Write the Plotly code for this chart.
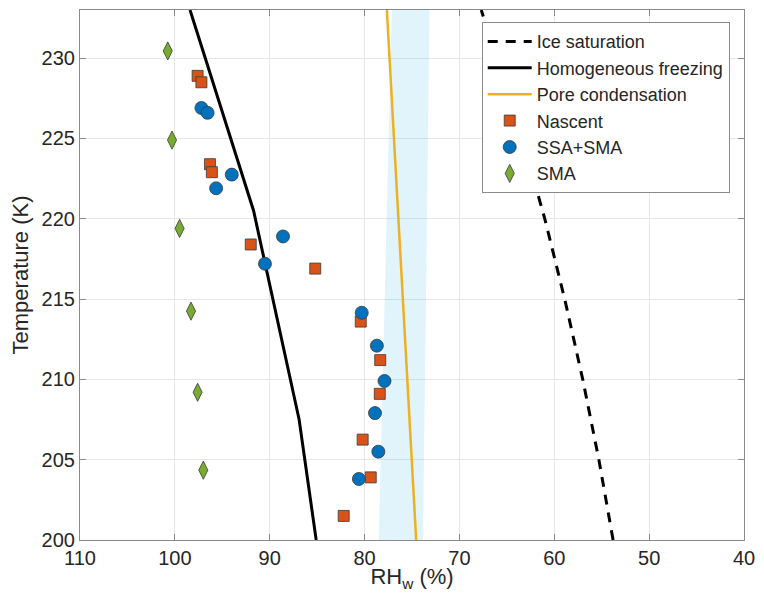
import plotly.graph_objects as go

# ---- data ----
ice_T = [200, 205, 210, 215, 220, 225, 230, 233]
ice_RH = [53.8, 55.3, 57.0, 58.9, 61.0, 63.4, 66.1, 67.7]

hom_T = [200, 207.5, 220.5, 233]
hom_RH = [85.1, 86.9, 91.7, 98.4]

pore_T = [200, 233]
pore_RH = [74.56, 77.65]

band_T = [200, 233]
band_left = [78.51, 77.13]
band_right = [73.84, 73.15]

nascent_RH = [97.6, 97.2, 96.3, 96.1, 92.0, 85.2, 80.4, 78.35, 78.4, 80.2, 79.35, 82.2]
nascent_T = [228.9, 228.5, 223.4, 222.9, 218.4, 216.9, 213.6, 211.2, 209.1, 206.25, 203.9, 201.5]

ssa_RH = [97.2, 96.55, 94.0, 95.65, 88.6, 90.5, 80.3, 78.7, 77.9, 78.9, 78.55, 80.6]
ssa_T = [226.9, 226.6, 222.75, 221.9, 218.9, 217.2, 214.15, 212.1, 209.9, 207.9, 205.5, 203.8]

sma_RH = [100.75, 100.3, 99.5, 98.3, 97.6, 97.0]
sma_T = [230.45, 224.9, 219.4, 214.25, 209.2, 204.35]

x_ticks = [110, 100, 90, 80, 70, 60, 50, 40]
y_ticks = [200, 205, 210, 215, 220, 225, 230]

FONT = "Liberation Sans, Arial, Helvetica, sans-serif"
TXT = "#262626"

fig = go.Figure()

# shaded band
fig.add_trace(go.Scatter(
    x=band_left + band_right[::-1],
    y=band_T + band_T[::-1],
    fill="toself", fillcolor="rgba(77,190,238,0.17)",
    line=dict(width=0), mode="lines", showlegend=False, hoverinfo="skip"))

fig.add_trace(go.Scatter(x=ice_RH, y=ice_T, mode="lines", name="Ice saturation",
                         line=dict(color="black", width=3, dash="10px,8px")))
fig.add_trace(go.Scatter(x=hom_RH, y=hom_T, mode="lines", name="Homogeneous freezing",
                         line=dict(color="black", width=3)))
fig.add_trace(go.Scatter(x=pore_RH, y=pore_T, mode="lines", name="Pore condensation",
                         line=dict(color="#EDB120", width=2.5)))

edge = dict(color="#3a3a3a", width=0.8)
fig.add_trace(go.Scatter(x=nascent_RH, y=nascent_T, mode="markers", name="Nascent",
                         marker=dict(symbol="square", size=11, color="#D95319", line=edge)))
fig.add_trace(go.Scatter(x=ssa_RH, y=ssa_T, mode="markers", name="SSA+SMA",
                         marker=dict(symbol="circle", size=13, color="#0072BD", line=edge)))
fig.add_trace(go.Scatter(x=sma_RH, y=sma_T, mode="markers", name="SMA",
                         marker=dict(symbol="diamond-tall", size=13, color="#77AC30", line=edge)))

axis_common = dict(
    showgrid=True, gridcolor="#e6e6e6", gridwidth=1,
    showline=True, linecolor="#8a8a8a", linewidth=1.2, mirror="ticks",
    ticks="inside", ticklen=6, tickcolor="#8a8a8a",
    zeroline=False, automargin=False, ticklabeloverflow="allow",
    tickfont=dict(family=FONT, size=20, color=TXT),
)

fig.update_xaxes(range=[110, 40], tickvals=x_ticks, ticktext=[str(v) for v in x_ticks],
                 title=dict(text="RH<sub>w</sub> (%)", font=dict(family=FONT, size=22, color=TXT),
                            standoff=4),
                 **axis_common)
fig.update_yaxes(range=[200, 233], tickvals=y_ticks, ticktext=[str(v) for v in y_ticks],
                 title=dict(text="Temperature (K)", font=dict(family=FONT, size=22, color=TXT),
                            standoff=8),
                 **axis_common)

# page has an 8px body margin, so the figure is smaller and offset
fig.update_layout(
    width=748, height=584,
    margin=dict(l=72, r=12, t=2, b=52, autoexpand=False),
    plot_bgcolor="white", paper_bgcolor="white",
    font=dict(family=FONT, color=TXT),
    legend=dict(x=0.605, y=0.977, xanchor="left", yanchor="top",
                bgcolor="white", bordercolor="#8a8a8a", borderwidth=1,
                font=dict(family=FONT, size=18, color=TXT),
                itemwidth=44, tracegroupgap=0),
)

fig.write_html("out.html")
